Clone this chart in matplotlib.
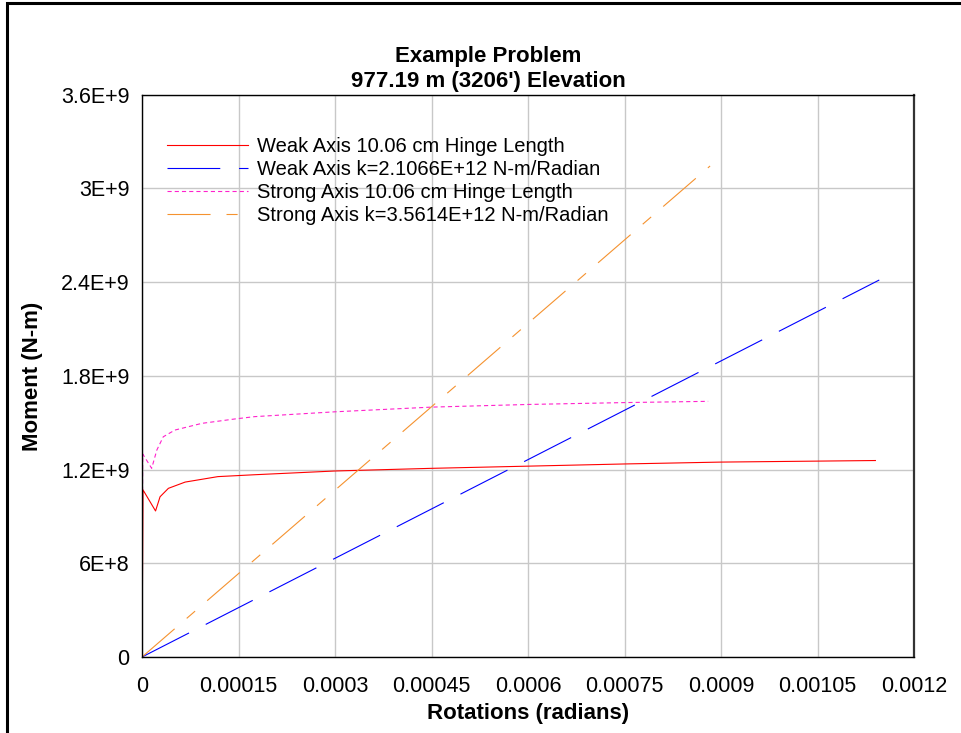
import matplotlib
matplotlib.use("Agg")
import matplotlib.pyplot as plt
from matplotlib.patches import Rectangle

plt.rcParams['font.family'] = ['Liberation Sans', 'DejaVu Sans']
plt.rcParams['lines.scale_dashes'] = False

# weak axis, 10.06 cm hinge length
weak_x = [0, 0.0000015, 0.000021, 0.000028, 0.000041, 0.000067, 0.000118, 0.000175,
          0.0003, 0.00045, 0.0006, 0.00075, 0.0009, 0.00114]
weak_y = [0, 1.07e9, 9.35e8, 1.026e9, 1.08e9, 1.12e9, 1.155e9, 1.167e9,
          1.191e9, 1.208e9, 1.222e9, 1.236e9, 1.248e9, 1.258e9]

# strong axis, 10.06 cm hinge length
strong_x = [0, 0.000001, 0.000015, 0.000023, 0.000033, 0.000051, 0.000093, 0.000144,
            0.000175, 0.0003, 0.00045, 0.0006, 0.00075, 0.00088]
strong_y = [0, 1.30e9, 1.208e9, 1.325e9, 1.41e9, 1.453e9, 1.496e9, 1.524e9,
            1.539e9, 1.57e9, 1.60e9, 1.617e9, 1.629e9, 1.637e9]

# elastic stiffness lines
weak_k_x = [0, 0.001146]
weak_k_y = [0, 2.414e9]
strong_k_x = [0, 0.000883]
strong_k_y = [0, 3.144e9]

labels = ["Weak Axis 10.06 cm Hinge Length",
          "Weak Axis k=2.1066E+12 N-m/Radian",
          "Strong Axis 10.06 cm Hinge Length",
          "Strong Axis k=3.5614E+12 N-m/Radian"]

xticks = [0, 0.00015, 0.0003, 0.00045, 0.0006, 0.00075, 0.0009, 0.00105, 0.0012]
xtick_labels = ["0", "0.00015", "0.0003", "0.00045", "0.0006", "0.00075", "0.0009", "0.00105", "0.0012"]
yticks = [0, 6e8, 1.2e9, 1.8e9, 2.4e9, 3e9, 3.6e9]
ytick_labels = ["0", "6E+8", "1.2E+9", "1.8E+9", "2.4E+9", "3E+9", "3.6E+9"]

fig = plt.figure(figsize=(9.61, 7.33), dpi=100)
ax = fig.add_axes([0.1478, 0.1037, 0.8033, 0.767])

lw = 0.8
ax.plot(weak_x, weak_y, color='#ff0000', lw=lw, label=labels[0])
ax.plot(weak_k_x, weak_k_y, color='#0000ff', lw=lw, dashes=(38, 13.5), label=labels[1])
ax.plot(strong_x, strong_y, color='#ff22cc', lw=lw, dashes=(3, 2.2), label=labels[2])
ax.plot(strong_k_x, strong_k_y, color='#f5922f', lw=lw, dashes=(31, 11.5, 8, 11.5), label=labels[3])

ax.set_xlim(0, 0.0012)
ax.set_ylim(0, 3.6e9)
ax.set_xticks(xticks)
ax.set_xticklabels(xtick_labels)
ax.set_yticks(yticks)
ax.set_yticklabels(ytick_labels)
ax.tick_params(length=0, labelsize=15.5)
ax.tick_params(axis='y', pad=9)
ax.tick_params(axis='x', pad=14)
ax.grid(True, color='#c8c8c8', lw=1)
ax.set_axisbelow(True)
for s in ax.spines.values():
    s.set_linewidth(1)
ax.spines['right'].set_linewidth(1.6)
ax.spines['right'].set_color('#333333')

ax.set_xlabel("Rotations (radians)", fontsize=16, fontweight='bold', labelpad=4)
ax.set_ylabel("Moment (N-m)", fontsize=16, fontweight='bold', labelpad=13)

fig.text(0.508, 0.906, "Example Problem\n977.19 m (3206') Elevation", ha='center', va='center',
         fontsize=16, fontweight='bold', linespacing=1.25)

ax.legend(loc='upper left', bbox_to_anchor=(0.022, 0.94), frameon=False, fontsize=14.5,
          handlelength=4.0, handletextpad=0.45, labelspacing=0.2, borderaxespad=0)

fig.patches.append(Rectangle((7 / 961, -0.1), 1.2, 1.1 - 3 / 733, transform=fig.transFigure,
                             fill=False, edgecolor='black', lw=2.2))

fig.savefig("out.png", dpi=100)
